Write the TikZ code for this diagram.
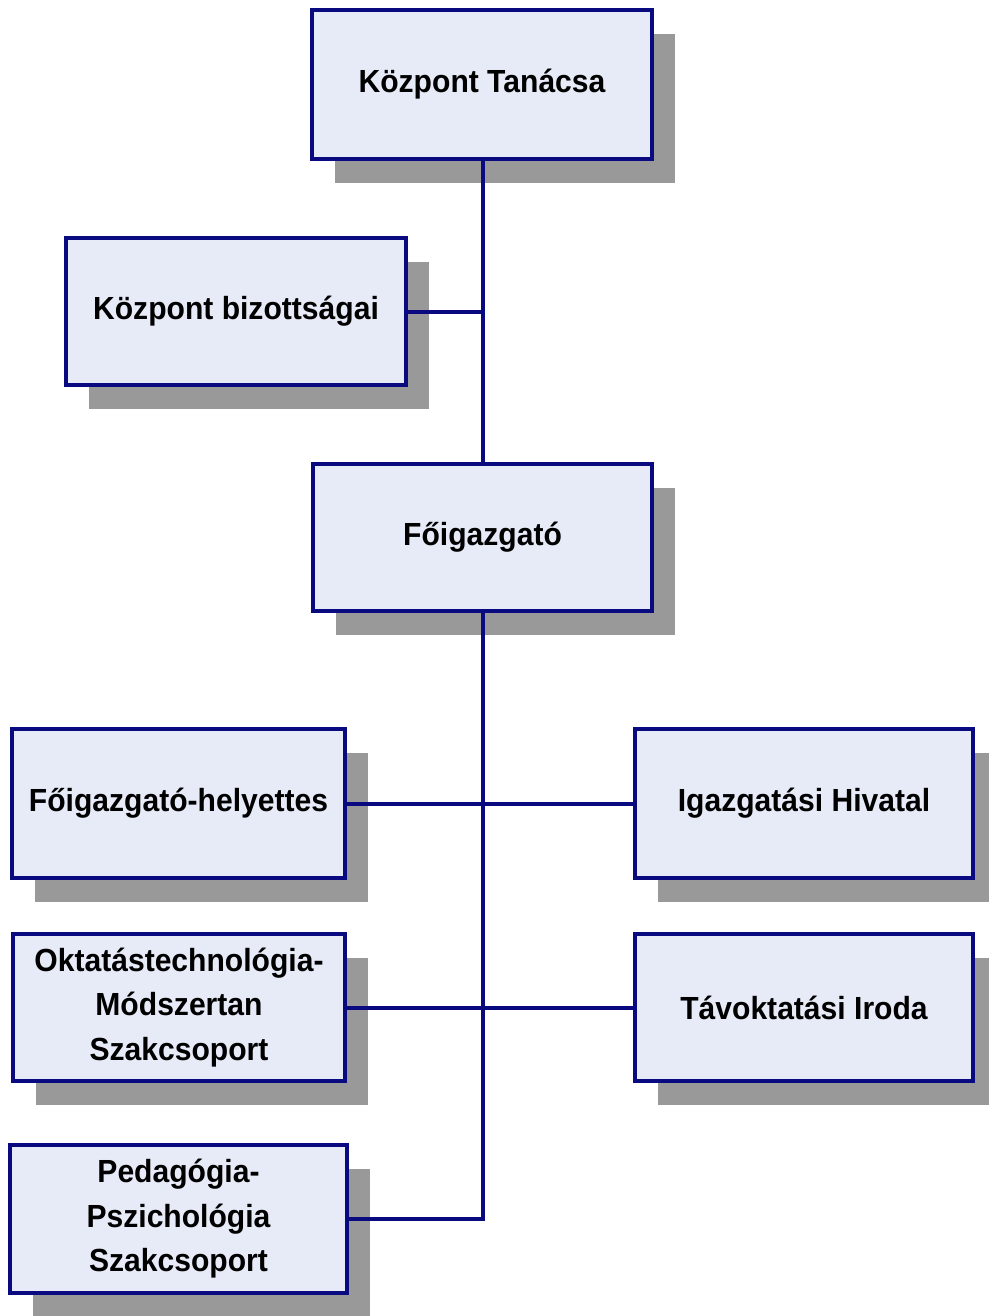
\documentclass[tikz,border=0pt]{standalone}
\usepackage{fontspec}
\setmainfont[FakeStretch=0.94]{Liberation Sans}
\usetikzlibrary{shadows}
\definecolor{boxfill}{HTML}{E7EBF7}
\definecolor{boxline}{HTML}{0A0A80}
\definecolor{shadowgray}{HTML}{999999}
\begin{document}
\begin{tikzpicture}[x=1pt,y=-1pt,
  orgbox/.style={draw=boxline, line width=4pt, fill=boxfill,
    drop shadow={shadow xshift=23pt, shadow yshift=-24pt, fill=shadowgray, opacity=1},
    font=\fontsize{32}{44.5}\selectfont\bfseries, align=center, inner sep=0pt},
  conn/.style={draw=boxline, line width=4pt}]
\useasboundingbox (0,0) rectangle (988,1316);
\node[orgbox, minimum width=340pt, minimum height=149pt] (tanacs) at (482,84.5) {Központ Tanácsa};
\node[orgbox, minimum width=340pt, minimum height=147pt] (bizott) at (236,311.5) {Központ bizottságai};
\node[orgbox, minimum width=339pt, minimum height=147pt] (foig) at (482.5,537.5) {Főigazgató};
\node[orgbox, minimum width=333pt, minimum height=149pt] (helyet) at (178.5,803.5) {Főigazgató-helyettes};
\node[orgbox, minimum width=338pt, minimum height=149pt] (hivatal) at (804,803.5) {Igazgatási Hivatal};
\node[orgbox, minimum width=332pt, minimum height=147pt] (oktat) at (179,1007.5) {Oktatástechnológia-\\Módszertan\\Szakcsoport};
\node[orgbox, minimum width=338pt, minimum height=147pt] (tavokt) at (804,1007.5) {Távoktatási Iroda};
\node[orgbox, minimum width=337pt, minimum height=148pt] (pedag) at (178.5,1219) {Pedagógia-\\Pszichológia\\Szakcsoport};
\coordinate (j1) at (483,311.5);
\coordinate (j2) at (483,1219);
\draw[conn] (tanacs.south -| j1) -- (foig.north -| j1);
\draw[conn] (bizott.east) -- (j1);
\draw[conn] (helyet.east) -- (hivatal.west);
\draw[conn] (oktat.east) -- (tavokt.west);
\draw[conn, line join=miter] (foig.south -| j2) -- (j2) -- (pedag.east);
\end{tikzpicture}
\end{document}
